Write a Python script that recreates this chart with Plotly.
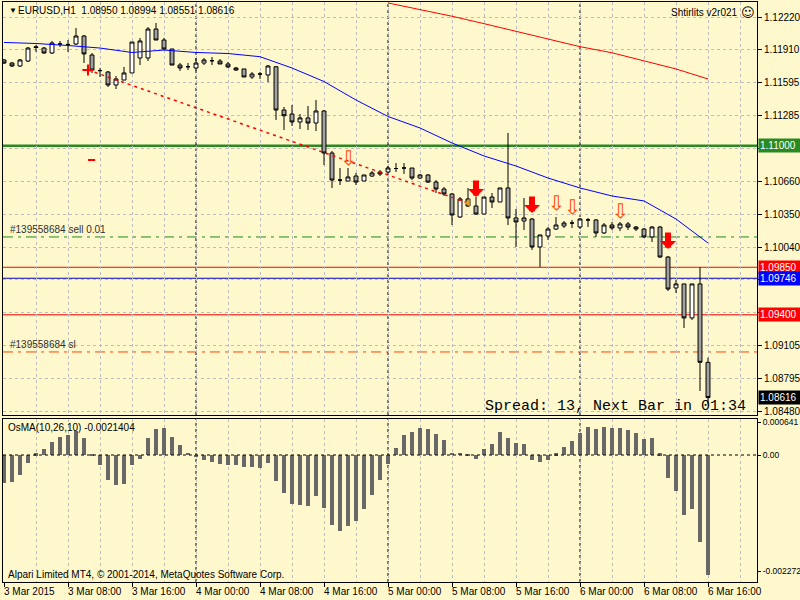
import plotly.graph_objects as go

# ---------------- data ----------------
bars = list(range(89))
opens = [1.11813,1.11784,1.11756,1.11803,1.11938,1.11926,1.11879,1.11964,1.11960,1.11964,
         1.12040,1.11860,1.11713,1.11699,1.11576,1.11623,1.11690,1.11832,1.11832,1.12106,
         1.12002,1.11917,1.11765,1.11749,1.11737,1.11784,1.11806,1.11803,1.11775,1.11737,
         1.11728,1.11652,1.11680,1.11671,1.11749,1.11339,1.11301,1.11226,1.11264,1.11216,
         1.11330,1.10932,1.10676,1.10667,1.10714,1.10667,1.10714,1.10752,1.10752,1.10785,
         1.10790,1.10790,1.10695,1.10724,1.10657,1.10591,1.10544,1.10326,1.10497,1.10430,
         1.10354,1.10515,1.10468,1.10601,1.10317,1.10288,1.10307,1.10042,1.10146,1.10212,
         1.10241,1.10269,1.10231,1.10298,1.10298,1.10175,1.10250,1.10222,1.10260,1.10231,
         1.10212,1.10137,1.10231,1.09947,1.09654,1.09692,1.09370,1.09692,1.08950]
highs = [1.11822,1.11794,1.11822,1.11936,1.11955,1.11936,1.11993,1.11993,1.12002,1.12116,
         1.12050,1.11879,1.11737,1.11709,1.11661,1.11747,1.11983,1.12021,1.12125,1.12163,
         1.12021,1.11917,1.11784,1.11784,1.11832,1.11832,1.11841,1.11822,1.11794,1.11747,
         1.11728,1.11699,1.11699,1.11765,1.11756,1.11368,1.11387,1.11301,1.11377,1.11434,
         1.11339,1.10951,1.10790,1.10790,1.10743,1.10724,1.10762,1.10771,1.10809,1.10837,
         1.10837,1.10790,1.10733,1.10733,1.10676,1.10610,1.10553,1.10515,1.10601,1.10515,
         1.10515,1.10553,1.10601,1.11122,1.10402,1.10506,1.10317,1.10156,1.10231,1.10326,
         1.10288,1.10298,1.10317,1.10317,1.10307,1.10269,1.10279,1.10279,1.10279,1.10241,
         1.10222,1.10241,1.10241,1.09957,1.09729,1.09692,1.09692,1.09850,1.08994]
lows = [1.11775,1.11747,1.11747,1.11794,1.11889,1.11870,1.11870,1.11936,1.11889,1.11955,
        1.11784,1.11690,1.11652,1.11557,1.11538,1.11623,1.11690,1.11765,1.11803,1.12002,
        1.11907,1.11765,1.11709,1.11718,1.11709,1.11765,1.11765,1.11775,1.11737,1.11709,
        1.11652,1.11633,1.11633,1.11604,1.11245,1.11150,1.11188,1.11159,1.11150,1.11140,
        1.10818,1.10601,1.10629,1.10667,1.10629,1.10667,1.10705,1.10714,1.10743,1.10752,
        1.10733,1.10676,1.10686,1.10648,1.10553,1.10525,1.10250,1.10317,1.10421,1.10345,
        1.10354,1.10411,1.10468,1.10250,1.10042,1.10203,1.10014,1.09853,1.10108,1.10203,
        1.10222,1.10222,1.10222,1.10231,1.10137,1.10165,1.10203,1.10193,1.10203,1.10193,
        1.10127,1.10089,1.09938,1.09625,1.09606,1.09275,1.09351,1.08678,1.08551]
closes = [1.11784,1.11756,1.11813,1.11926,1.11931,1.11879,1.11974,1.11964,1.11960,1.12040,
          1.11870,1.11718,1.11712,1.11576,1.11633,1.11690,1.11983,1.11993,1.12106,1.12002,
          1.11917,1.11765,1.11737,1.11749,1.11784,1.11813,1.11806,1.11775,1.11747,1.11718,
          1.11652,1.11680,1.11680,1.11756,1.11339,1.11285,1.11226,1.11264,1.11216,1.11330,
          1.10932,1.10676,1.10676,1.10705,1.10657,1.10724,1.10743,1.10733,1.10790,1.10785,
          1.10790,1.10695,1.10724,1.10657,1.10591,1.10544,1.10345,1.10497,1.10430,1.10354,
          1.10515,1.10468,1.10601,1.10317,1.10279,1.10317,1.10042,1.10156,1.10212,1.10250,
          1.10269,1.10269,1.10307,1.10298,1.10175,1.10250,1.10222,1.10260,1.10231,1.10212,
          1.10137,1.10231,1.09947,1.09644,1.09692,1.09370,1.09692,1.08950,1.08616]

osma = [-0.000542,-0.000522,-0.000391,-0.000151,0.000033,0.000111,0.000248,0.000346,0.000391,0.000475,
        0.000326,0.000020,-0.000196,-0.000489,-0.000587,-0.000567,-0.000196,-0.000078,0.000326,0.000508,
        0.000522,0.000346,0.000196,0.000045,-0.000045,-0.000098,-0.000143,-0.000176,-0.000196,-0.000190,
        -0.000229,-0.000240,-0.000260,-0.000151,-0.000508,-0.000749,-0.000964,-0.000978,-0.000991,-0.000802,
        -0.001030,-0.001369,-0.001480,-0.001388,-0.001284,-0.001056,-0.000782,-0.000489,-0.000176,0.000131,
        0.000391,0.000456,0.000522,0.000502,0.000411,0.000293,0.000045,0.000040,0.000005,-0.000078,
        0.000117,0.000215,0.000444,0.000326,0.000240,0.000215,-0.000098,-0.000131,-0.000098,0.000033,
        0.000151,0.000274,0.000436,0.000553,0.000508,0.000553,0.000534,0.000534,0.000489,0.000424,
        0.000313,0.000326,0.000033,-0.000444,-0.000698,-0.001173,-0.001056,-0.001695,-0.002340]

ma_blue_bars = [0,4,8,12,16,20,24,28,32,36,40,44,48,52,56,60,64,68,72,76,80,84,88]
ma_blue = [1.11979,1.11969,1.11950,1.11926,1.11884,1.11907,1.11884,1.11874,1.11844,1.11737,
           1.11609,1.11434,1.11278,1.11169,1.11027,1.10904,1.10809,1.10695,1.10601,1.10525,
           1.10478,1.10307,1.10080]
ma_red_bars = [48,52,56,60,64,68,72,76,80,84,88]
ma_red = [1.12353,1.12293,1.12227,1.12157,1.12083,1.12016,1.11939,1.11881,1.11803,1.11728,1.11633]

trade_bars = [10.5, 58]
trade_prices = [1.11718, 1.10459]
sl_mark_bars = [10.5, 11.4]
sl_mark_prices = [1.10866, 1.10866]

sell_arrow_bars = [59, 66, 83]
sell_arrow_prices = [1.10515, 1.10364, 1.10023]
hollow_arrow_bars = [43, 69, 71, 77]
hollow_arrow_prices = [1.10790, 1.10364, 1.10326, 1.10288]

price_ticks = [1.12220,1.11910,1.11595,1.11285,1.10975,1.10660,1.10350,1.10040,
               1.09730,1.09420,1.09105,1.08795,1.08480]
hidden_ticks = [1.10975, 1.09730, 1.09420]   # covered by the price labels
osma_ticks = [0.000641, 0.0, -0.002272]
osma_tick_text = ["0.000641", "0.00", "-0.002272"]

time_tick_bars = [0,8,16,24,32,40,48,56,64,72,80,88]
time_tick_labels = ["3 Mar 2015","3 Mar 08:00","3 Mar 16:00","4 Mar 00:00","4 Mar 08:00",
                    "4 Mar 16:00","5 Mar 00:00","5 Mar 08:00","5 Mar 16:00","6 Mar 00:00",
                    "6 Mar 08:00","6 Mar 16:00"]
day_sep_bars = [24, 48, 72]

level_values = [1.11000, 1.09850, 1.09746, 1.09400]
order_price = 1.10137
sl_price = 1.09048

# ---------------- style ----------------
BG = "#FFF8CD"
FONT = "Liberation Sans, Arial, sans-serif"
GRID = "#BDBDBD"
XD = [3/800, 757/800]
YD_MAIN = [1-415/600, 1-2/600]
YD_OSMA = [1-582/600, 1-419/600]

fig = go.Figure()

fig.add_trace(go.Candlestick(
    x=bars, open=opens, high=highs, low=lows, close=closes,
    increasing=dict(line=dict(color="black", width=1), fillcolor="white"),
    decreasing=dict(line=dict(color="black", width=1), fillcolor="#A0A0A0"),
    whiskerwidth=0, xaxis="x", yaxis="y", showlegend=False, hoverinfo="skip"))

fig.add_trace(go.Scatter(x=ma_blue_bars, y=ma_blue, mode="lines",
                         line=dict(color="#0000FF", width=1), xaxis="x", yaxis="y",
                         showlegend=False, hoverinfo="skip"))
fig.add_trace(go.Scatter(x=ma_red_bars, y=ma_red, mode="lines",
                         line=dict(color="#FF0000", width=1), xaxis="x", yaxis="y",
                         showlegend=False, hoverinfo="skip"))
fig.add_trace(go.Scatter(x=trade_bars, y=trade_prices, mode="lines",
                         line=dict(color="#FF0000", width=1.5, dash="3px,4px"),
                         xaxis="x", yaxis="y", showlegend=False, hoverinfo="skip"))
fig.add_trace(go.Scatter(x=sl_mark_bars, y=sl_mark_prices, mode="lines",
                         line=dict(color="#FF0000", width=2),
                         xaxis="x", yaxis="y", showlegend=False, hoverinfo="skip"))
fig.add_trace(go.Scatter(x=[trade_bars[0]], y=[trade_prices[0]], mode="markers",
                         marker=dict(symbol="cross-thin", size=8, line=dict(color="#FF0000", width=2)),
                         xaxis="x", yaxis="y", showlegend=False, hoverinfo="skip"))
fig.add_trace(go.Scatter(x=[trade_bars[1]], y=[trade_prices[1]], mode="markers",
                         marker=dict(symbol="triangle-left", size=7, color="#E0A020"),
                         xaxis="x", yaxis="y", showlegend=False, hoverinfo="skip"))

fig.add_trace(go.Bar(x=bars, y=osma, marker=dict(color="#686868", line=dict(width=0)),
                     width=0.62, xaxis="x2", yaxis="y2", showlegend=False, hoverinfo="skip"))

shapes = []
level_styles = [("#2A8A22", 2.5), ("#FF0000", 1), ("#0000C8", 1), ("#FF0000", 1)]
for val, (col, w) in zip(level_values, level_styles):
    shapes.append(dict(type="line", xref="x domain", x0=0, x1=1, yref="y", y0=val, y1=val,
                       line=dict(color=col, width=w), layer="below"))
shapes.append(dict(type="line", xref="x domain", x0=0, x1=1, yref="y", y0=order_price, y1=order_price,
                   line=dict(color="#1E8A1E", width=1, dash="10px,5px,3px,5px"), layer="below"))
shapes.append(dict(type="line", xref="x domain", x0=0, x1=1, yref="y", y0=sl_price, y1=sl_price,
                   line=dict(color="#FF4500", width=1, dash="10px,5px,3px,5px"), layer="below"))
for b in day_sep_bars:
    shapes.append(dict(type="line", xref="x", x0=b, x1=b, yref="y domain", y0=0, y1=1,
                       line=dict(color="black", width=1, dash="3px,3px"), layer="below"))
    shapes.append(dict(type="line", xref="x2", x0=b, x1=b, yref="y2 domain", y0=0, y1=1,
                       line=dict(color="black", width=1, dash="3px,3px"), layer="below"))
shapes.append(dict(type="line", xref="x2 domain", x0=0, x1=1, yref="y2", y0=0, y1=0,
                   line=dict(color="black", width=1, dash="3px,3px")))

ann = []
ann.append(dict(xref="paper", yref="paper", x=7/800, y=1-11/600, xanchor="left", yanchor="middle",
                text="▼", showarrow=False, font=dict(family=FONT, size=8, color="black")))
ann.append(dict(xref="paper", yref="paper", x=16/800, y=1-11/600, xanchor="left", yanchor="middle",
                text="EURUSD,H1  %.5f %.5f %.5f %.5f" % (opens[-1], highs[-1], lows[-1], closes[-1]),
                showarrow=False, font=dict(family=FONT, size=10, color="black")))
ann.append(dict(xref="paper", yref="paper", x=740/800, y=1-12/600, xanchor="right", yanchor="middle",
                text="Shtirlits v2r021", showarrow=False, font=dict(family=FONT, size=10, color="black")))
ann.append(dict(xref="paper", yref="paper", x=739/800, y=1-12/600, xanchor="left", yanchor="middle",
                text="☺", showarrow=False, font=dict(family="DejaVu Sans", size=13, color="black")))
ann.append(dict(xref="paper", yref="paper", x=748/800, y=1-406/600, xanchor="right", yanchor="middle",
                text="Spread: 13, Next Bar in 01:34", showarrow=False,
                font=dict(family="Liberation Mono, Courier New, monospace", size=15, color="black")))
ann.append(dict(xref="paper", yref="y", x=8/800, y=order_price, xanchor="left", yanchor="bottom",
                text="#139558684 sell 0.01", showarrow=False, font=dict(family=FONT, size=10, color="#303030")))
ann.append(dict(xref="paper", yref="y", x=8/800, y=sl_price, xanchor="left", yanchor="bottom",
                text="#139558684 sl", showarrow=False, font=dict(family=FONT, size=10, color="#303030")))
ann.append(dict(xref="paper", yref="paper", x=6/800, y=1-427/600, xanchor="left", yanchor="middle",
                text="OsMA(10,26,10) %.7f" % -0.0021404, showarrow=False,
                font=dict(family=FONT, size=10, color="black")))
ann.append(dict(xref="paper", yref="paper", x=6/800, y=1-574/600, xanchor="left", yanchor="middle",
                text="Alpari Limited MT4, © 2001-2014, MetaQuotes Software Corp.", showarrow=False,
                font=dict(family=FONT, size=10, color="black")))
for b, t in zip(time_tick_bars, time_tick_labels):
    ann.append(dict(xref="x2", yref="paper", x=b, y=1-584/600, xanchor="left", yanchor="top",
                    text=t, showarrow=False, xshift=-2, font=dict(family=FONT, size=10, color="black")))
for b, p in zip(sell_arrow_bars, sell_arrow_prices):
    ann.append(dict(xref="x", yref="y", x=b, y=p, ax=0, ay=-18, text="", showarrow=True,
                    arrowhead=1, arrowsize=0.45, arrowwidth=6, arrowcolor="#FF0000", standoff=0))
for b, p in zip(hollow_arrow_bars, hollow_arrow_prices):
    ann.append(dict(xref="x", yref="y", x=b, y=p, xanchor="center", yanchor="bottom", text="⇩",
                    showarrow=False, yshift=-4, font=dict(family="DejaVu Sans", size=20, color="#FF4500")))
label_items = [(level_values[0], "#2A8A22"), (level_values[1], "#FF0000"), (level_values[2], "#0000FF"),
               (level_values[3], "#FF0000"), (closes[-1], "#000000")]
for val, col in label_items:
    ann.append(dict(xref="paper", yref="y", x=758/800, y=val, xanchor="left", yanchor="middle",
                    text="%.5f" % val, showarrow=False, bgcolor=col, borderpad=1, width=40, align="left",
                    font=dict(family=FONT, size=10, color="white")))

axis_common = dict(showline=True, linecolor="black", linewidth=1, mirror=True, zeroline=False,
                   automargin=False)
fig.update_layout(
    width=800, height=600, autosize=False,
    margin=dict(l=0, r=0, t=0, b=0, autoexpand=False),
    paper_bgcolor=BG, plot_bgcolor=BG,
    showlegend=False, bargap=0,
    xaxis=dict(domain=XD, range=[-0.125, 94.125], anchor="y", showticklabels=False,
               tickmode="linear", tick0=0, dtick=4, ticks="", showgrid=True, gridcolor=GRID,
               griddash="3px,3px", gridwidth=1, rangeslider=dict(visible=False), **axis_common),
    yaxis=dict(domain=YD_MAIN, range=[1.08451, 1.12362], anchor="x", side="right",
               tickmode="array", tickvals=price_ticks,
               ticktext=["" if v in hidden_ticks else "%.5f" % v for v in price_ticks],
               ticks="outside", ticklen=4, tickcolor="black", showgrid=True, gridcolor=GRID,
               griddash="3px,3px", tickfont=dict(family=FONT, size=10, color="black"), **axis_common),
    xaxis2=dict(domain=XD, range=[-0.125, 94.125], anchor="y2", showticklabels=False,
                tickmode="array", tickvals=time_tick_bars, ticks="outside", ticklen=4, tickcolor="black",
                showgrid=True, gridcolor=GRID, griddash="3px,3px",
                minor=dict(tick0=0, dtick=4, showgrid=True, gridcolor=GRID, griddash="3px,3px", ticks=""),
                **axis_common),
    yaxis2=dict(domain=YD_OSMA, range=[-0.002483, 0.000704], anchor="x2", side="right",
                tickmode="array", tickvals=osma_ticks, ticktext=osma_tick_text,
                ticks="outside", ticklen=3, tickcolor="black", showgrid=False,
                tickfont=dict(family=FONT, size=8.5, color="black"), **axis_common),
    shapes=shapes, annotations=ann,
)

fig.write_html("out.html", config={"displayModeBar": False})
